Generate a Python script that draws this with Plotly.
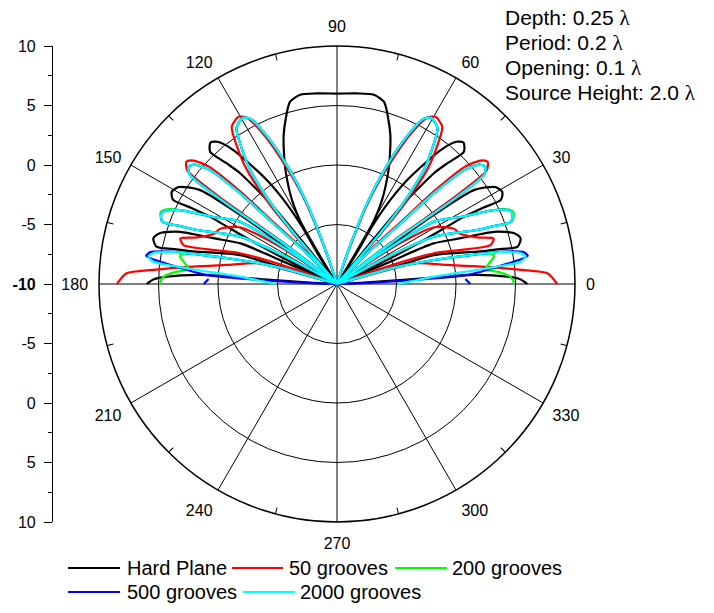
import plotly.graph_objects as go

# ---------------- data (angle in degrees, level in dB) ----------------
hard_theta = [0, 1.5, 2.5, 3.8, 3.5, 3.0, 3.0,
              16.5, 16.5, 16.6, 13.0, 12.2, 11.7, 14.0, 16.0, 18.4, 20.3, 22.8, 22.5, 22.5,
              25, 25.4, 26.8, 27.9, 27.6, 27.2, 29.2, 31.5, 34.4, 35.4, 35.7, 34.5, 34,
              51, 50.9, 50.5, 48.8, 47.5, 46.2, 48.2, 50, 52.3, 55.9, 57.5, 58.6, 58.1, 58,
              58, 57.5, 59.2, 61.8, 65.5, 68, 70.3, 72.5, 75.5, 79, 84, 90,
              96, 101, 104.5, 107.5, 109.7, 112, 114.5, 118.2, 120.8, 122.5, 122,
              122, 121.9, 121.4, 122.5, 124.1, 127.7, 130, 131.8, 133.8, 132.5, 131.2, 129.5, 129.1, 129,
              146, 145.5, 144.3, 144.6, 145.6, 148.5, 150.8, 152.8, 152.4, 152.1, 153.2, 154.6, 155,
              157.5, 157.5, 157.2, 159.7, 161.6, 164, 166, 168.3, 167.8, 167, 163.4, 163.5, 163.5,
              177, 177, 176.5, 176.2, 177.5, 178.5, 180]
hard_r = [6.0, 5.4, 4.3, 1.5, -4.1, -8, -10,
          -10, -6, -1.5, 2.1, 3.8, 5.5, 5.9, 5.5, 3.9, 1.1, -1.2, -6, -10,
          -10, -5.9, -1.8, 2.1, 3.8, 5.5, 5.9, 5.6, 4.0, 0.7, -2.7, -6, -10,
          -10, -6.0, -1.6, 2.4, 3.8, 5.4, 5.95, 5.6, 4.2, 0.6, -1.5, -4.0, -7.3, -10,
          -10, -7, -4.4, -2.0, 0.4, 1.9, 3.3, 4.4, 5.8, 6.2, 6.1, 6.0,
          6.1, 6.2, 5.8, 4.4, 3.3, 1.9, 0.4, -2.0, -4.4, -7, -10,
          -10, -7.3, -4.0, -1.5, 0.6, 4.2, 5.6, 5.95, 5.4, 3.8, 2.4, -1.6, -6.0, -10,
          -10, -6, -2.7, 0.7, 4.0, 5.6, 5.9, 5.5, 3.8, 2.1, -1.8, -5.9, -10,
          -10, -6, -1.2, 1.1, 3.9, 5.5, 5.9, 5.5, 3.8, 2.1, -1.5, -6, -10,
          -10, -8, -4.1, 1.5, 4.3, 5.4, 6.0]

g50_theta = [0, 2.9, 4.4, 6.9, 9.7, 15, 15.5, 16,
             19.5, 19, 17.6, 15.4, 14.2, 16.2, 18.4, 22.6, 24.5, 25.8, 30.3, 33, 34,
             38, 37.8, 37.5, 36.7, 36.5, 37.2, 39.1, 40.7, 42.5, 43.7, 44.2, 46, 46.5,
             48.5, 48.8, 49, 49.7, 51.7, 54, 56.2, 59.5, 61.5, 63.8, 66.5, 69, 71, 71.5,
             108.5, 109, 111, 113.5, 116.2, 118.5, 120.5, 123.8, 126, 128.3, 130.3, 131, 131.2, 131.5,
             133.5, 134, 135.8, 136.3, 137.5, 139.3, 140.9, 142.8, 143.5, 143.3, 142.5, 142.2, 142,
             146, 147, 149.7, 154.2, 155.5, 157.4, 161.6, 163.8, 165.8, 164.6, 162.4, 161, 160.5,
             164, 164.5, 165, 170.3, 173.1, 175.6, 177.1, 180]
g50_r = [8.5, 7.7, 5.5, 2.2, -0.5, -3.3, -6, -10,
         -10, -5, -1.45, 0.8, 3.3, 3.7, 2.4, 1.1, 0.96, 0.76, -0.55, -4, -10,
         -10, -7, -4.2, -0.7, 2.8, 5.8, 6.3, 5.9, 4.6, 1.4, -2.5, -6.4, -10,
         -10, -7.2, -4.6, -1.4, 2.2, 4.3, 5.9, 6.3, 5.9, 4.1, 0.8, -2.5, -7, -10,
         -10, -7, -2.5, 0.8, 4.1, 5.9, 6.3, 5.9, 4.3, 2.2, -1.4, -4.6, -7.2, -10,
         -10, -6.4, -2.5, 1.4, 4.6, 5.9, 6.3, 5.8, 2.8, -0.7, -4.2, -7, -10,
         -10, -4, -0.55, 0.76, 0.96, 1.1, 2.4, 3.7, 3.3, 0.8, -1.45, -5, -10,
         -10, -6, -3.3, -0.5, 2.2, 5.5, 7.7, 8.5]

g200_theta = [0, 2.4, 4.4, 5.6, 7.8, 9.9, 10.9, 12.2, 13.9, 16, 16,
              28, 28, 26, 21.1, 20.3, 19.7, 22, 23.5, 25.2, 28.5, 32.7, 34.5, 34.5,
              37.5, 37.5, 37.2, 36.3, 36, 36.6, 38.3, 40, 41.9, 43.1, 43.6, 45.4, 45.5,
              49, 49.5, 49.6, 50.5, 52.7, 55, 57.2, 60.5, 62.5, 64.6, 67.3, 69.5, 71.5, 72,
              108, 108.5, 110.5, 112.7, 115.4, 117.5, 119.5, 122.8, 125, 127.3, 129.5, 130.4, 130.5, 131,
              134.5, 134.6, 136.4, 136.9, 138.1, 140, 141.7, 143.4, 144, 143.7, 142.8, 142.5, 142.5,
              145.5, 145.5, 147.3, 151.5, 154.8, 156.5, 158, 160.3, 159.7, 158.9, 154, 152, 152,
              164, 164, 166.1, 167.8, 169.1, 170.1, 172.2, 174.4, 175.6, 177.6, 180]
g200_r = [4.9, 4.6, 3.5, 2.55, 2.9, 3.4, 3.3, 1.5, -1.6, -5, -10,
          -10, -5, -0.9, 2.6, 4.0, 5.6, 6.0, 5.7, 4.6, 1.8, -0.3, -5, -10,
          -10, -7, -4.3, -0.9, 2.5, 5.4, 5.9, 5.6, 4.3, 1.2, -2.6, -6.4, -10,
          -10, -7.4, -4.8, -1.6, 2.0, 4.0, 5.6, 6.05, 5.6, 3.8, 0.6, -2.7, -7.3, -10,
          -10, -7.3, -2.7, 0.6, 3.8, 5.6, 6.05, 5.6, 4.0, 2.0, -1.6, -4.8, -7.4, -10,
          -10, -6.4, -2.6, 1.2, 4.3, 5.6, 5.9, 5.4, 2.5, -0.9, -4.3, -7, -10,
          -10, -5, -0.3, 1.8, 4.6, 5.7, 6.0, 5.6, 4.0, 2.6, -0.9, -5, -10,
          -10, -5, -1.6, 1.5, 3.3, 3.4, 2.9, 2.55, 3.5, 4.6, 4.9]

g500_theta = [0, 2.2, None, 2.5, 3, 4, 5.5, 7.2, 8.4, 9.7, 11, 12.2, 13.9, 16, 16,
              28, 28, 26, 21.1, 20.3, 19.7, 22, 23.5, 25.2, 28.5, 32.7, 34.5, 34.5,
              37.5, 37.5, 37.2, 36.3, 36, 36.6, 38.3, 40, 41.9, 43.1, 43.6, 45.4, 45.5,
              49, 49.5, 49.6, 50.5, 52.7, 55, 57.2, 60.5, 62.5, 64.6, 67.3, 69.5, 71.5, 72,
              108, 108.5, 110.5, 112.7, 115.4, 117.5, 119.5, 122.8, 125, 127.3, 129.5, 130.4, 130.5, 131,
              134.5, 134.6, 136.4, 136.9, 138.1, 140, 141.7, 143.4, 144, 143.7, 142.8, 142.5, 142.5,
              145.5, 145.5, 147.3, 151.5, 154.8, 156.5, 158, 160.3, 159.7, 158.9, 154, 152, 152,
              164, 164, 166.1, 167.8, 169, 170.3, 171.6, 172.8, 174.5, 176, 177, 177.5,
              None, 177.8, 180]
g500_r = [1.2, 0.8, None, -10, -3.5, 1.0, 2.8, 5.0, 6.2, 5.9, 4.3, 1.5, -1.6, -5, -10,
          -10, -5, -0.9, 2.6, 4.0, 5.5, 5.9, 5.6, 4.6, 1.8, -0.3, -5, -10,
          -10, -7, -4.3, -0.9, 2.5, 5.4, 5.9, 5.6, 4.3, 1.2, -2.6, -6.4, -10,
          -10, -7.4, -4.8, -1.6, 2.0, 4.0, 5.6, 6.05, 5.6, 3.8, 0.6, -2.7, -7.3, -10,
          -10, -7.3, -2.7, 0.6, 3.8, 5.6, 6.05, 5.6, 4.0, 2.0, -1.6, -4.8, -7.4, -10,
          -10, -6.4, -2.6, 1.2, 4.3, 5.6, 5.9, 5.4, 2.5, -0.9, -4.3, -7, -10,
          -10, -5, -0.3, 1.8, 4.6, 5.5, 5.9, 5.6, 4.0, 2.6, -0.9, -5, -10,
          -10, -5, -1.6, 1.5, 4.3, 5.9, 6.2, 5.0, 2.8, 1.0, -3.5, -10,
          None, 0.8, 1.2]

g2000_theta = [0, 2, 4.3, 5.7, 6.2, 6.9, 8.2, 9.5, 10.9, 12.2, 13.9, 16, 16,
               28, 28, 26, 21.1, 20.3, 19.7, 22, 23.5, 25.2, 28.5, 32.7, 34.5, 34.5,
               37.5, 37.5, 37.2, 36.3, 36, 36.6, 38.3, 40, 41.9, 43.1, 43.6, 45.4, 45.5,
               49, 49.5, 49.6, 50.5, 52.7, 55, 57.2, 60.5, 62.5, 64.6, 67.3, 69.5, 71.5, 72,
               108, 108.5, 110.5, 112.7, 115.4, 117.5, 119.5, 122.8, 125, 127.3, 129.5, 130.4, 130.5, 131,
               134.5, 134.6, 136.4, 136.9, 138.1, 140, 141.7, 143.4, 144, 143.7, 142.8, 142.5, 142.5,
               145.5, 145.5, 147.3, 151.5, 154.8, 156.5, 158, 160.3, 159.7, 158.9, 154, 152, 152,
               164, 164, 166.1, 167.8, 169.1, 170.5, 171.8, 173.1, 173.8, 174.3, 175.7, 178, 180]
g2000_r = [-4.9, -3.8, -1.8, 1.85, 3.5, 5.55, 6.0, 5.7, 4.3, 1.5, -1.6, -5, -10,
           -10, -5, -0.9, 2.6, 4.0, 5.5, 5.9, 5.6, 4.6, 1.8, -0.3, -5, -10,
           -10, -7, -4.3, -0.9, 2.5, 5.4, 5.9, 5.6, 4.3, 1.2, -2.6, -6.4, -10,
           -10, -7.4, -4.8, -1.6, 2.0, 4.0, 5.6, 6.05, 5.6, 3.8, 0.6, -2.7, -7.3, -10,
           -10, -7.3, -2.7, 0.6, 3.8, 5.6, 6.05, 5.6, 4.0, 2.0, -1.6, -4.8, -7.4, -10,
           -10, -6.4, -2.6, 1.2, 4.3, 5.6, 5.9, 5.4, 2.5, -0.9, -4.3, -7, -10,
           -10, -5, -0.3, 1.8, 4.6, 5.5, 5.9, 5.6, 4.0, 2.6, -0.9, -5, -10,
           -10, -5, -1.6, 1.5, 4.3, 5.7, 6.0, 5.55, 3.5, 1.85, -1.8, -3.8, -4.9]

series_names = ["Hard Plane", "50 grooves", "200 grooves", "500 grooves", "2000 grooves"]
series_colors = ["#000000", "#ff0000", "#00ff00", "#0000ff", "#00ffff"]
series_theta = [hard_theta, g50_theta, g200_theta, g500_theta, g2000_theta]
series_r = [hard_r, g50_r, g200_r, g500_r, g2000_r]

angle_ticks = [0, 30, 60, 90, 120, 150, 180, 210, 240, 270, 300, 330]
minor_angle_ticks = [15, 45, 75, 105, 135, 165, 195, 225, 255, 285, 315, 345]
radial_grid = [-5, 0, 5]
left_tickvals = [-20, -15, -10, -5, 0, 5, 10, 15, 20]
left_ticktext = ["10", "5", "0", "-5", "<b>-10</b>", "-5", "0", "5", "10"]
LAM = "<span style='font-family:Liberation Serif, serif'>λ</span>"
info_lines = ["Depth: 0.25 " + LAM, "Period: 0.2 " + LAM, "Opening: 0.1 " + LAM,
              "Source Height: 2.0 " + LAM]

# ---------------- layout geometry (page pixels) ----------------
W, H = 714, 613
CX, CY, RAD = 337, 284, 238
FONT = "Liberation Sans, Arial, sans-serif"


def px(x):
    return x / W


def py(y):
    return 1 - y / H


dom_x = [px(CX - RAD), px(CX + RAD)]
dom_y = [py(CY + RAD), py(CY - RAD)]

fig = go.Figure()

for name, col, th, rr in zip(series_names, series_colors, series_theta, series_r):
    fig.add_trace(go.Scatterpolar(
        theta=th, r=rr, mode="lines", name=name, subplot="polar",
        line=dict(color=col, width=2.2, shape="spline", smoothing=0.7),
        connectgaps=False, showlegend=False, hoverinfo="skip"))

# overlay for minor angular ticks
fig.add_trace(go.Scatterpolar(theta=[0], r=[-10], mode="markers", subplot="polar2",
                              marker=dict(opacity=0), showlegend=False, hoverinfo="skip"))
# carrier for the left radial scale
fig.add_trace(go.Scatter(x=[0], y=[0], mode="markers", marker=dict(opacity=0),
                         showlegend=False, hoverinfo="skip"))

fig.update_layout(
    width=W, height=H, margin=dict(l=0, r=0, t=0, b=0, pad=0), autosize=False,
    paper_bgcolor="white", plot_bgcolor="rgba(0,0,0,0)",
    font=dict(family=FONT, color="black", size=16),
    polar=dict(
        domain=dict(x=dom_x, y=dom_y), bgcolor="white",
        angularaxis=dict(rotation=0, direction="counterclockwise",
                         tickmode="array", tickvals=angle_ticks,
                         ticktext=[str(a) for a in angle_ticks],
                         tickfont=dict(size=16, family=FONT),
                         showgrid=True, gridcolor="black", gridwidth=1,
                         showline=True, linecolor="black", linewidth=1.5,
                         ticks="outside", ticklen=7, tickcolor="rgba(0,0,0,0)"),
        radialaxis=dict(range=[-10, 10], tickmode="array", tickvals=radial_grid,
                        showticklabels=False, ticks="", showline=False,
                        showgrid=True, gridcolor="black", gridwidth=1),
    ),
    polar2=dict(
        domain=dict(x=dom_x, y=dom_y), bgcolor="rgba(0,0,0,0)",
        angularaxis=dict(rotation=0, direction="counterclockwise",
                         tickmode="array", tickvals=minor_angle_ticks,
                         ticks="inside", ticklen=6, tickcolor="black", tickwidth=1,
                         showticklabels=False, showgrid=False, showline=False),
        radialaxis=dict(range=[-10, 10], visible=False),
    ),
    xaxis=dict(domain=[px(52), px(60)], visible=False, range=[0, 1], automargin=False),
    yaxis=dict(domain=[py(522), py(46)], range=[-20, 20], anchor="free", position=px(52),
               automargin=False,
               tickmode="array", tickvals=left_tickvals, ticktext=left_ticktext,
               ticks="outside", ticklen=8, tickwidth=1, tickcolor="black",
               ticklabelstandoff=5,
               showline=True, linecolor="black", linewidth=1.2, showgrid=False,
               zeroline=False, tickfont=dict(size=16, family=FONT),
               minor=dict(dtick=2.5, tick0=-20, ticks="outside", ticklen=4,
                          tickcolor="black", showgrid=False)),
)

# info text, top right
for i, t in enumerate(info_lines):
    fig.add_annotation(x=px(503), y=py(18 + 25 * i), xref="paper", yref="paper",
                       text=t, showarrow=False, xanchor="left", yanchor="middle",
                       font=dict(size=21, family=FONT, color="black"))

# legend drawn by hand: (line start px, line end px, text start px, row y px)
legend_pos = [(68, 120, 125, 568), (232, 283, 287, 568), (395, 447, 450, 568),
              (68, 120, 125, 592), (243, 295, 298, 592)]
for name, col, (x0, x1, xt, yy) in zip(series_names, series_colors, legend_pos):
    fig.add_shape(type="line", xref="paper", yref="paper",
                  x0=px(x0), x1=px(x1), y0=py(yy), y1=py(yy),
                  line=dict(color=col, width=2.2))
    fig.add_annotation(x=px(xt), y=py(yy), xref="paper", yref="paper", text=name,
                       showarrow=False, xanchor="left", yanchor="middle",
                       font=dict(size=20, family=FONT, color="black"))

fig.write_html("out.html")
